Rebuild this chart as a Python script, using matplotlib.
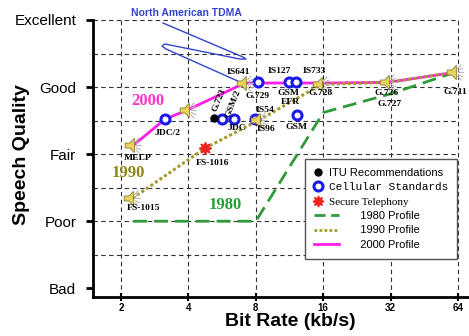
import matplotlib
matplotlib.use("Agg")

import matplotlib.pyplot as plt
from matplotlib.path import Path
from matplotlib.lines import Line2D
from matplotlib.legend_handler import HandlerLine2D

# ── Data ───────────────────────────────────────────────────────────────────────
quality_levels = [1, 2, 3, 4, 5]
quality_labels = ["Bad", "Poor", "Fair", "Good", "Excellent"]
rate_ticks = [2, 4, 8, 16, 32, 64]

profile_1980_rate = [2.27, 8.0, 16.0, 32.0, 62.0]
profile_1980_mos = [2.0, 2.0, 3.62, 3.9, 4.22]

profile_1990_rate = [2.25, 4.75, 8.3, 15.7, 31.2, 62.0]
profile_1990_mos = [2.34, 3.09, 3.51, 4.04, 4.07, 4.22]

profile_2000_rate = [2.27, 3.14, 3.97, 7.14, 15.7, 31.2, 62.0]
profile_2000_mos = [3.13, 3.52, 3.66, 4.06, 4.06, 4.07, 4.22]

# speaker icons (listened coders)
speaker_rate = [2.27, 2.25, 3.97, 7.14, 8.3, 15.7, 31.2, 62.0]
speaker_mos = [3.13, 2.34, 3.66, 4.06, 3.51, 4.04, 4.07, 4.22]

itu_rate = [5.2]
itu_mos = [3.54]

cellular_rate = [3.14, 5.65, 6.4, 7.95, 8.2, 11.2, 12.1, 12.2]
cellular_mos = [3.52, 3.52, 3.52, 3.53, 4.07, 4.07, 4.07, 3.58]

secure_rate = [4.75]
secure_mos = [3.09]

coder_names = ["IS641", "IS127", "IS733", "G.729", "GSM", "EFR", "G.728",
               "G.726", "G.727", "G.711", "IS54", "IS96", "GSM", "JDC/2",
               "JDC", "G.723", "GSM/2", "MELP", "FS-1016", "FS-1015"]
coder_label_rate = [6.66, 10.15, 14.55, 8.18, 11.14, 11.37, 15.64,
                    30.8, 31.5, 62.0, 8.79, 8.88, 12.2, 3.24,
                    6.59, 5.48, 6.33, 2.38, 5.15, 2.51]
coder_label_mos = [4.22, 4.24, 4.24, 3.87, 3.91, 3.78, 3.91,
                   3.91, 3.75, 3.93, 3.66, 3.37, 3.40, 3.31,
                   3.39, 3.81, 3.76, 2.94, 2.87, 2.19]
coder_label_rot = [0, 0, 0, 0, 0, 0, 0, 0, 0, 0, 0, 0, 0, 0,
                   0, 68, 68, 0, 0, 0]

# hand-drawn pointer for "North American TDMA"
tdma_rate = [3.08, 7.01, 7.23, 6.8, 3.14, 3.05, 3.18, 6.8]
tdma_mos = [4.955, 4.448, 4.418, 4.418, 4.642, 4.612, 4.567, 4.075]

GREEN = "#2f9a3a"
OLIVE = "#a39c2c"
MAGENTA = "#ff1ee8"
BLUE = "#1a1aee"
RED = "#ee2222"

# ── Speaker icon marker ────────────────────────────────────────────────────────
body = Path([(-1.0, -0.3), (-0.45, -0.3), (0.1, -0.85), (0.1, 0.85),
             (-0.45, 0.3), (-1.0, 0.3), (-1.0, -0.3)])
ray_pts = [(0.3, 0.0), (1.0, 0.0), (0.3, 0.22), (0.9, 0.55), (0.3, -0.22),
           (0.9, -0.55), (0.25, 0.45), (0.7, 0.95), (0.25, -0.45), (0.7, -0.95)]
rays = Path(ray_pts, [Path.MOVETO, Path.LINETO] * 5)


class WideLine(HandlerLine2D):
    def create_artists(self, legend, orig_handle, xdescent, ydescent,
                       width, height, fontsize, trans):
        return super().create_artists(legend, orig_handle, xdescent, ydescent,
                                      width * 2.8, height, fontsize, trans)


fig = plt.figure(figsize=(4.69, 3.36), dpi=100)
ax = fig.add_axes([93 / 469, 1 - 297 / 336, 376 / 469, 277 / 336])
ax.set_xscale("log", base=2)
ax.set_xlim(1.5, 71.6)
ax.set_ylim(0.87, 5)

# grid
ax.vlines(rate_ticks, 0.87, 5, colors="#333333", linestyles=(0, (4, 3)),
          linewidth=0.8, zorder=0.5, clip_on=False)
ax.hlines([1.5, 2, 2.5, 3, 3.5, 4, 4.5, 5], 1.5, 64, colors="#333333",
          linestyles=(0, (4, 3)), linewidth=0.8, zorder=0.5, clip_on=False)

# profiles
ax.plot(profile_1980_rate, profile_1980_mos, color=GREEN, lw=2,
        ls=(0, (5, 2.5)), zorder=2)
ax.plot(profile_1990_rate, profile_1990_mos, color=OLIVE, lw=2.2,
        ls=(0, (1, 0.8)), zorder=3)
ax.plot(profile_2000_rate, profile_2000_mos, color=MAGENTA, lw=2, zorder=2.5)

# standards
ax.plot(cellular_rate, cellular_mos, ls="none", marker="o", ms=6.5,
        mfc="white", mec=BLUE, mew=2.2, zorder=4)
ax.plot(itu_rate, itu_mos, ls="none", marker="o", ms=5, color="black", zorder=4)
ax.plot(secure_rate, secure_mos, ls="none", marker=(8, 1, 0), ms=9,
        color=RED, zorder=4)

# speakers
ax.plot(speaker_rate, speaker_mos, ls="none", marker=body, ms=12,
        mfc="#e8d45a", mec="#8a7c30", mew=0.6, zorder=5)
ax.plot(speaker_rate, speaker_mos, ls="none", marker=rays, ms=12,
        mfc="none", mec="#b8b8b8", mew=0.8, zorder=5)

# pointer
ax.plot(tdma_rate, tdma_mos, color="#3344cc", lw=1, zorder=4, clip_on=False)
ax.text(3.94, 5.1, "North American TDMA", color="#3344cc", fontsize=7.5,
        fontweight="bold", ha="center", va="center", family="Liberation Sans")

# coder labels
for name, r, q, rot in zip(coder_names, coder_label_rate, coder_label_mos,
                           coder_label_rot):
    ax.text(r, q, name, fontsize=6.8, fontweight="bold", ha="center",
            va="center", rotation=rot, family="Liberation Serif", zorder=6)

ax.text(2.64, 3.79, "2000", color="#ff33cc", fontsize=12, fontweight="bold",
        ha="center", va="center", family="Liberation Serif")
ax.text(2.15, 2.72, "1990", color="#8a8414", fontsize=12, fontweight="bold",
        ha="center", va="center", family="Liberation Serif")
ax.text(5.83, 2.24, "1980", color="#22a030", fontsize=12, fontweight="bold",
        ha="center", va="center", family="Liberation Serif")

# axes styling
ax.set_xticks(rate_ticks)
ax.set_xticklabels([str(r) for r in rate_ticks], fontsize=7, fontweight="bold")
ax.minorticks_off()
ax.set_yticks(quality_levels)
ax.set_yticklabels(quality_labels, fontsize=11, family="Liberation Sans")
ax.tick_params(axis="y", direction="out", length=5, width=2, pad=7)
ax.tick_params(axis="x", direction="inout", length=6, width=1.5, pad=1)
for t in ax.get_xticklabels():
    t.set_family("Liberation Sans")
ax.spines[["top", "right"]].set_visible(False)
ax.spines[["left", "bottom"]].set_linewidth(2)

ax.set_ylabel("Speech Quality", fontsize=14, fontweight="bold",
              family="Liberation Sans", va="center")
ax.yaxis.set_label_coords(-0.189, 0.513)
ax.set_xlabel("Bit Rate (kb/s)", fontsize=14, fontweight="bold",
              family="Liberation Sans", va="center")
ax.xaxis.set_label_coords(0.524, -0.09)

# legend
handles = [
    Line2D([], [], ls="none", marker="o", color="black", ms=5),
    Line2D([], [], ls="none", marker="o", mfc="white", mec=BLUE, mew=2.2, ms=6.5),
    Line2D([], [], ls="none", marker=(8, 1, 0), color=RED, ms=8),
    Line2D([], [], color=GREEN, lw=2, ls=(0, (4, 2))),
    Line2D([], [], color=OLIVE, lw=2, ls=(0, (1, 0.8))),
    Line2D([], [], color=MAGENTA, lw=2),
]
pad = " " * 10
labels = ["ITU Recommendations", "Cellular Standards", "Secure Telephony",
          pad + "1980 Profile", pad + "1990 Profile", pad + "2000 Profile"]
wide = WideLine()
leg = ax.legend(handles, labels, loc="upper left", bbox_to_anchor=(0.564, 0.498),
                borderaxespad=0, fontsize=8, handlelength=0.8,
                handletextpad=0.55, borderpad=0.8, labelspacing=0.4,
                fancybox=False, framealpha=1, edgecolor="#555555",
                handler_map={h: wide for h in handles[3:]})
leg.get_frame().set_linewidth(1)
leg.set_zorder(7)
fonts = ["Liberation Sans", "Liberation Mono", "Liberation Serif",
         "Liberation Sans", "Liberation Sans", "Liberation Sans"]
for txt, fam in zip(leg.get_texts(), fonts):
    txt.set_family(fam)

fig.savefig("out.png", dpi=100)
